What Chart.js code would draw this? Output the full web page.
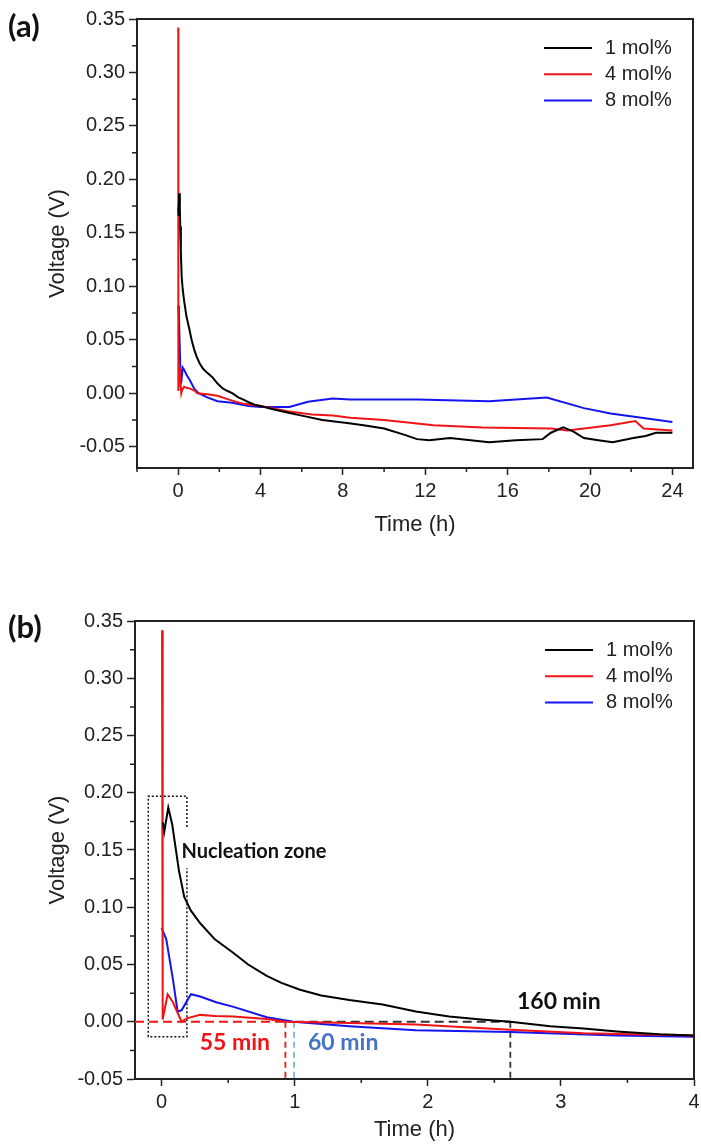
<!DOCTYPE html>
<html>
<head>
<meta charset="utf-8">
<script src="https://cdn.jsdelivr.net/npm/chart.js@4.4.1/dist/chart.umd.min.js"></script>
<style>
  body { margin: 0; background: #fff; }
  #wrap { position: relative; width: 701px; height: 1146px; overflow: hidden; }
  canvas { position: absolute; left: 0; }
  #chart-a { top: 0; }
  #chart-b { top: 560px; }
  .tag { position: absolute; left: 8px; font: bold 31px Lato, "Open Sans", sans-serif; line-height: 31px; color: #111; }
</style>
</head>
<body>
<div id="wrap">
  <canvas id="chart-a" width="701" height="560"></canvas>
  <canvas id="chart-b" width="701" height="586"></canvas>
  <div class="tag" style="top:10px">(a)</div>
  <div class="tag" style="top:611px">(b)</div>
</div>
<script>
(function () {
    "use strict";

    // --- data (time in h, voltage in V) ---
    const seriesNames = ["1 mol%", "4 mol%", "8 mol%"];

    const time1 = [0.01, 0.02, 0.05, 0.08, 0.10, 0.13, 0.17, 0.22, 0.29, 0.40, 0.54, 0.65, 0.79, 0.90, 1.04, 1.20, 1.41,
        1.66, 1.91, 2.16, 2.40, 2.62, 2.92, 3.17, 3.42, 3.74, 4.0, 4.6, 5.3, 6.0, 7.0, 8.2,
        9.0, 10.0, 11.0, 11.6, 12.2, 13.2, 14.2, 15.1, 16.4, 17.7, 18.1, 18.7, 19.2, 19.7, 20.4,
        21.1, 22.1, 22.7, 23.2, 24.0];
    const volt1 = [0.174, 0.166, 0.187, 0.172, 0.156, 0.132, 0.109, 0.097, 0.086, 0.072, 0.060, 0.050, 0.040, 0.034, 0.028, 0.023, 0.019,
        0.015, 0.009, 0.0045, 0.002, 0.0, -0.004, -0.006, -0.0085, -0.011, -0.012, -0.015, -0.018, -0.021, -0.025, -0.028,
        -0.030, -0.033, -0.039, -0.043, -0.044, -0.042, -0.044, -0.046, -0.044, -0.043, -0.037, -0.032, -0.036, -0.042, -0.044,
        -0.046, -0.042, -0.040, -0.037, -0.037];

    const time4 = [0.003, 0.008, 0.045, 0.085, 0.15, 0.19, 0.29, 0.40, 0.54, 0.79, 0.93, 1.41, 1.91, 2.62, 3.17,
        4.0, 5.3, 6.5, 7.5, 8.35, 10.0, 12.4, 14.8, 18.1, 18.9, 19.7, 21.0, 22.2, 22.6, 24.0];
    const volt4 = [0.342, 0.002, 0.024, 0.017, 0.0, 0.003, 0.006, 0.005, 0.0045, 0.0025, 0.0, -0.001, -0.0025, -0.007, -0.010,
        -0.012, -0.017, -0.020, -0.021, -0.023, -0.025, -0.030, -0.032, -0.033, -0.035, -0.033, -0.030, -0.026, -0.033, -0.035];

    const time8 = [0.0, 0.035, 0.085, 0.12, 0.15, 0.22, 0.29, 0.41, 0.54, 0.79, 0.99, 1.41, 1.91, 2.62, 3.42, 4.0,
        5.4, 6.3, 7.5, 8.35, 11.6, 15.1, 17.9, 19.7, 21.0, 24.0];
    const volt8 = [0.082, 0.072, 0.037, 0.009, 0.010, 0.024, 0.022, 0.017, 0.013, 0.004, 0.0, -0.004, -0.0075, -0.009, -0.012, -0.013,
        -0.013, -0.008, -0.005, -0.006, -0.006, -0.0075, -0.004, -0.014, -0.019, -0.027];

    // tick values
    const xTicksA = [0, 4, 8, 12, 16, 20, 24];
    const xMinorA = [-2, 2, 6, 10, 14, 18, 22];
    const xTicksB = [0, 1, 2, 3, 4];
    const xMinorB = [0.5, 1.5, 2.5, 3.5];
    const yTicks = [-0.05, 0.00, 0.05, 0.10, 0.15, 0.20, 0.25, 0.30, 0.35];
    const yMinor = [-0.025, 0.025, 0.075, 0.125, 0.175, 0.225, 0.275, 0.325];

    // onset markers in (b)
    const onsetTimes = [0.93, 0.995, 2.62];
    const onsetLabels = ["55 min", "60 min", "160 min"];

    const colors = ["#000000", "#f01414", "#1414f0"];
    const AXIS = "#222";
    const FONT = "'Liberation Sans', Arial, sans-serif";
    const BOLD = "Lato, 'Open Sans', sans-serif";

    function pts(t, v) { return t.map((x, i) => ({ x: x, y: v[i] })); }

    const seriesData = [pts(time1, volt1), pts(time4, volt4), pts(time8, volt8)];

    // box frame, minor ticks and legend inside the plot
    const framePlugin = {
        id: "frame",
        afterDraw(chart, args, opts) {
            const { ctx, chartArea: a, scales } = chart;
            ctx.save();
            ctx.strokeStyle = AXIS;
            ctx.lineWidth = 2;
            ctx.beginPath();
            ctx.moveTo(a.left, a.top); ctx.lineTo(a.right, a.top); ctx.lineTo(a.right, a.bottom);
            ctx.stroke();

            ctx.lineWidth = 1.5;
            ctx.beginPath();
            opts.xMinor.forEach(v => {
                const px = scales.x.getPixelForValue(v);
                ctx.moveTo(px, a.bottom); ctx.lineTo(px, a.bottom + 4);
            });
            opts.yMinor.forEach(v => {
                const py = scales.y.getPixelForValue(v);
                ctx.moveTo(a.left, py); ctx.lineTo(a.left - 5, py);
            });
            ctx.stroke();

            ctx.font = `20px ${FONT}`;
            ctx.textBaseline = "middle";
            chart.data.datasets.forEach((ds, i) => {
                const y = a.top + 29 + i * 26.3;
                ctx.strokeStyle = ds.borderColor;
                ctx.lineWidth = 2;
                ctx.beginPath();
                ctx.moveTo(a.right - 149, y); ctx.lineTo(a.right - 101, y);
                ctx.stroke();
                ctx.fillStyle = "#222";
                ctx.fillText(ds.label, a.right - 88, y);
            });
            ctx.restore();
        }
    };

    // annotations of panel (b)
    const notesPlugin = {
        id: "notes",
        beforeDatasetsDraw(chart) {
            const { ctx, scales: { x, y } } = chart;
            if (!chart.options.plugins.notes) { return; }
            const X = v => x.getPixelForValue(v);
            const Y = v => y.getPixelForValue(v);
            ctx.save();
            // nucleation zone box
            ctx.strokeStyle = "#111";
            ctx.lineWidth = 1.5;
            ctx.setLineDash([2, 2]);
            ctx.beginPath();
            ctx.moveTo(X(0.19), Y(0.170)); ctx.lineTo(X(0.19), Y(0.197));
            ctx.lineTo(X(-0.1), Y(0.197)); ctx.lineTo(X(-0.1), Y(-0.013));
            ctx.lineTo(X(0.19), Y(-0.013)); ctx.lineTo(X(0.19), Y(0.134));
            ctx.stroke();

            ctx.lineWidth = 2;
            ctx.setLineDash([9, 5]);
            ctx.strokeStyle = "#f01414";
            ctx.beginPath();
            ctx.moveTo(X(-0.2), Y(0)); ctx.lineTo(X(0.96), Y(0));
            ctx.stroke();
            ctx.strokeStyle = "#333";
            ctx.beginPath();
            ctx.moveTo(X(1.0), Y(0)); ctx.lineTo(X(onsetTimes[2]), Y(0));
            ctx.stroke();

            const vcols = ["#f01414", "#7fb2e0", "#333"];
            ctx.lineWidth = 1.8;
            ctx.setLineDash([6, 4]);
            onsetTimes.forEach((t, i) => {
                ctx.strokeStyle = vcols[i];
                ctx.beginPath();
                ctx.moveTo(X(t), Y(0)); ctx.lineTo(X(t), Y(-0.05));
                ctx.stroke();
            });
            ctx.restore();
        },
        afterDatasetsDraw(chart) {
            const { ctx, scales: { x, y } } = chart;
            if (!chart.options.plugins.notes) { return; }
            const X = v => x.getPixelForValue(v);
            const Y = v => y.getPixelForValue(v);
            ctx.save();
            ctx.textBaseline = "middle";
            ctx.font = `bold 20px ${BOLD}`;
            ctx.fillStyle = "#111";
            ctx.fillText("Nucleation zone", X(0.15), Y(0.149));
            ctx.font = `bold 23px ${BOLD}`;
            ctx.fillStyle = "#f01414";
            ctx.fillText(onsetLabels[0], X(0.286), Y(-0.018));
            ctx.fillStyle = "#4472c4";
            ctx.fillText(onsetLabels[1], X(1.10), Y(-0.018));
            ctx.fillStyle = "#111";
            ctx.fillText(onsetLabels[2], X(2.67), Y(0.018));
            ctx.restore();
        }
    };

    function makeChart(id, cfg) {
        const el = document.getElementById(id);
        return new Chart(el.getContext("2d"), {
            type: "line",
            data: {
                datasets: seriesData.map((d, i) => ({
                    label: seriesNames[i],
                    data: d,
                    borderColor: colors[i],
                    borderWidth: 2,
                    pointRadius: 0,
                    tension: 0,
                    fill: false,
                })),
            },
            options: {
                responsive: false,
                animation: false,
                events: [],
                layout: { padding: cfg.padding },
                plugins: {
                    legend: { display: false },
                    tooltip: { enabled: false },
                    frame: { xMinor: cfg.xMinor, yMinor: yMinor },
                    notes: cfg.notes || false,
                },
                scales: {
                    x: {
                        type: "linear",
                        min: cfg.xMin, max: cfg.xMax,
                        afterBuildTicks: s => { s.ticks = cfg.xTicks.map(v => ({ value: v })); },
                        afterFit: s => { s.height = cfg.xHeight; s.paddingLeft = 0; s.paddingRight = 0; },
                        border: { color: AXIS, width: 2 },
                        grid: { drawOnChartArea: false, drawTicks: true, tickLength: 7, tickColor: AXIS, tickWidth: 1.5 },
                        ticks: { color: "#222", font: { family: FONT, size: 20 }, padding: 4, maxRotation: 0,
                            callback: v => String(v) },
                        title: { display: true, text: "Time (h)", color: "#222",
                            font: { family: FONT, size: 22 }, padding: { top: 0, bottom: cfg.xTitlePad } },
                    },
                    y: {
                        type: "linear",
                        min: cfg.yMin, max: 0.35,
                        afterBuildTicks: s => { s.ticks = yTicks.map(v => ({ value: v })); },
                        afterFit: s => { s.width = cfg.yWidth; },
                        border: { color: AXIS, width: 2 },
                        grid: { drawOnChartArea: false, drawTicks: true, tickLength: 8, tickColor: AXIS, tickWidth: 1.5 },
                        ticks: { color: "#222", font: { family: FONT, size: 20 }, padding: 4,
                            callback: v => v.toFixed(2) },
                        title: { display: true, text: "Voltage (V)", color: "#222",
                            font: { family: FONT, size: 22 }, padding: { top: 45, bottom: 0 } },
                    },
                },
            },
            plugins: [framePlugin, notesPlugin],
        });
    }

    makeChart("chart-a", {
        padding: { top: 19, right: 8, left: 0, bottom: 0 },
        xMin: -2, xMax: 25, xTicks: xTicksA, xMinor: xMinorA,
        yMin: -0.07, yWidth: 137, xHeight: 92, xTitlePad: 22,
    });

    makeChart("chart-b", {
        padding: { top: 61, right: 7, left: 0, bottom: 0 },
        xMin: -0.2, xMax: 4, xTicks: xTicksB, xMinor: xMinorB,
        yMin: -0.05, yWidth: 135, xHeight: 67, xTitlePad: 3,
        notes: true,
    });
})();
</script>
</body>
</html>
